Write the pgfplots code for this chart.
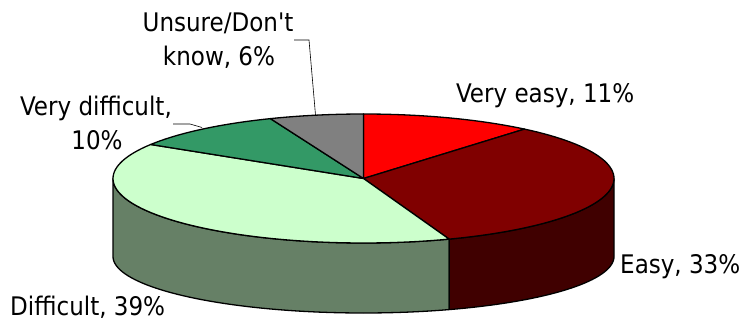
\documentclass[border=0pt]{standalone}
\usepackage{pgfplots}
\usepackage{fontspec}
\setmainfont{DejaVu Sans Condensed}
\newfontfamily\lblfont{DejaVu Sans Condensed}
\pgfplotsset{compat=1.18}

% Survey shares in percent, clockwise from twelve o'clock
\def\vEasy{11}\def\vEasier{33}\def\vHard{39}\def\vHarder{10}\def\vUnsure{6}
\pgfmathsetmacro{\vTotal}{\vEasy+\vEasier+\vHard+\vHarder+\vUnsure}

% Disc geometry: top face and the lower rim of the side wall
\def\cx{363.5}\def\rx{250.5}
\def\cyT{178.5}\def\ryT{64.5}
\def\cyB{256.5}\def\ryB{56.5}

% Append an elliptical arc (angles clockwise from the top) to \pts
\newcommand{\arcto}[4]{%
  \pgfmathtruncatemacro{\nsteps}{max(1,ceil(abs(#2-#1)/2))}%
  \pgfplotsforeachungrouped \k in {0,...,\nsteps}{%
    \pgfmathsetmacro{\ang}{#1+(#2-#1)*\k/\nsteps}%
    \pgfmathsetmacro{\px}{\cx+\rx*sin(\ang)}%
    \pgfmathsetmacro{\py}{#3-#4*cos(\ang)}%
    \xdef\pts{\pts (\px,\py)}%
  }%
}
% Wedge of the top face
\newcommand{\pieslice}[3]{%
  \gdef\pts{(\cx,\cyT)}%
  \arcto{#1}{#2}{\cyT}{\ryT}%
  \xdef\pts{\pts (\cx,\cyT)}%
  \edef\doplot{\noexpand\addplot[fill=#3,draw=black,line width=1.3pt,line join=round] coordinates {\pts};}%
  \doplot
}
% Visible part of the side wall
\newcommand{\piewall}[3]{%
  \gdef\pts{}%
  \arcto{#1}{#2}{\cyT}{\ryT}%
  \arcto{#2}{#1}{\cyB}{\ryB}%
  \pgfmathsetmacro{\px}{\cx+\rx*sin(#1)}%
  \pgfmathsetmacro{\py}{\cyT-\ryT*cos(#1)}%
  \xdef\pts{\pts (\px,\py)}%
  \edef\doplot{\noexpand\addplot[fill=#3,draw=black,line width=1.3pt,line join=round] coordinates {\pts};}%
  \doplot
}

\definecolor{veasy}{HTML}{FF0000}
\definecolor{easy}{HTML}{800000}
\definecolor{easyside}{HTML}{400000}
\definecolor{hard}{HTML}{CCFFCC}
\definecolor{hardside}{HTML}{668066}
\definecolor{vhard}{HTML}{339966}
\definecolor{unsure}{HTML}{808080}

\begin{document}
\begin{tikzpicture}
\begin{axis}[
  width=743pt, height=320pt, scale only axis,
  xmin=0, xmax=743, ymin=0, ymax=320, y dir=reverse,
  axis lines=none, clip=false,
]
% Keep the full canvas in the bounding box
\path (axis cs:0,0) rectangle (axis cs:743,320);

\pgfmathsetmacro{\aA}{360*\vEasy/\vTotal}
\pgfmathsetmacro{\aB}{\aA+360*\vEasier/\vTotal}
\pgfmathsetmacro{\aC}{\aB+360*\vHard/\vTotal}
\pgfmathsetmacro{\aD}{\aC+360*\vHarder/\vTotal}

% Side wall, only the front half shows
\piewall{\aB}{270}{hardside}
\piewall{90}{\aB}{easyside}

% Top face
\pieslice{0}{\aA}{veasy}
\pieslice{\aA}{\aB}{easy}
\pieslice{\aB}{\aC}{hard}
\pieslice{\aC}{\aD}{vhard}
\pieslice{\aD}{360}{unsure}

% Leader lines
\addplot[black,line width=0.6pt] coordinates {(294,40) (309,40) (315.5,115)};
\addplot[black,line width=0.6pt] coordinates {(173,124) (190,124) (202,127.5)};

% Labels
\def\lf{\lblfont\fontsize{25.6}{30}\selectfont}
\node[anchor=base west,inner sep=0pt] at (axis cs:456,103) {\lf Very easy, 11\%};
\node[anchor=base west,inner sep=0pt] at (axis cs:620,273.5) {\lf Easy, 33\%};
\node[anchor=base west,inner sep=0pt] at (axis cs:10,315) {\lf Difficult, 39\%};
\node[anchor=base,inner sep=0pt] at (axis cs:96,116) {\lf Very difficult,};
\node[anchor=base,inner sep=0pt] at (axis cs:97,150) {\lf 10\%};
\node[anchor=base,inner sep=0pt] at (axis cs:218,32) {\lf Unsure/Don't};
\node[anchor=base,inner sep=0pt] at (axis cs:219,66) {\lf know, 6\%};
\end{axis}
\end{tikzpicture}
\end{document}
